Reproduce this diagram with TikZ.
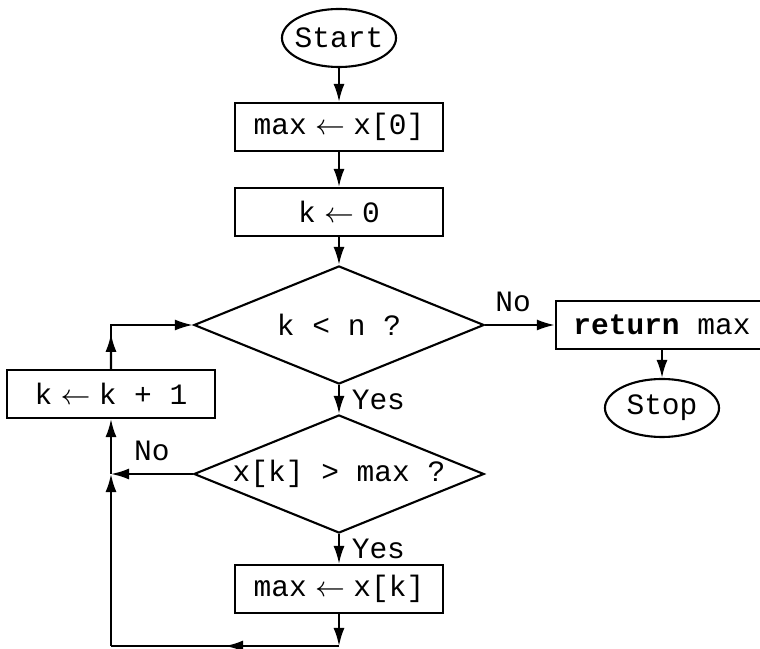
\documentclass[tikz,border=0pt]{standalone}
\usepackage{fontspec}
\setmonofont{Liberation Mono}
\usetikzlibrary{arrows.meta, positioning, shapes.geometric, calc}

\begin{document}
\begin{tikzpicture}[x=0.01cm, y=-0.01cm, line width=0.6pt,
    every node/.style={font=\ttfamily\fontsize{8.4}{10}\selectfont},
    proc/.style={draw, rectangle, minimum width=2.07cm, minimum height=0.48cm, inner sep=0pt},
    decide/.style={draw, diamond, aspect=2.47, minimum width=2.9cm, minimum height=1.18cm, inner sep=0pt},
    term/.style={draw, ellipse, minimum width=1.14cm, minimum height=0.58cm, inner xsep=-0.1cm, inner ysep=0pt},
    arr/.style={-{Latex[length=0.18cm, width=0.11cm]}}]
  \useasboundingbox (0,0) rectangle (760,649);

  % Colonne principale
  \node[term] (start) at (339,38) {Start};
  \node[proc] (initmax) at (339,127) {max$\;\leftarrow\;$x[0]};
  \node[proc] (initk) at (339,212) {k$\;\leftarrow\;$0};
  \node[decide] (testk) at (339,325) {k < n ?};
  \node[decide] (testx) at (339,474) {x[k] > max ?};
  \node[proc] (setmax) at (339,589) {max$\;\leftarrow\;$x[k]};

  % Incrément et sortie
  \node[proc] (inck) at (111,394) {k$\;\leftarrow\;$k + 1};
  \node[proc, minimum width=2.12cm] (ret) at (662,325) {\textbf{return} max};
  \node[term] (stop) at (662,408) {Stop};

  % Points de la boucle
  \coordinate (join) at (111,474);
  \coordinate (low) at (339,646);
  \coordinate (lowl) at (111,646);
  \coordinate (upl) at (111,325);

  % Flèches
  \draw[arr] (start) -- (initmax);
  \draw[arr] (initmax) -- (initk);
  \draw[arr] (initk) -- (testk);
  \draw[arr] (testk) -- node[right] {Yes} (testx);
  \draw[arr] (testx) -- node[right] {Yes} (setmax);
  \draw[arr] (testk) -- node[above, pos=0.4] {No} (ret);
  \draw[arr] (ret) -- (stop);
  \draw[arr] (testx) -- node[above] {No} (join);

  % Retour de boucle
  \draw[arr] (setmax) -- (low);
  \draw (low) -- (lowl);
  \draw[arr] (low) -- ($(low)!0.5!(lowl)$);
  \draw[arr] (lowl) -- (join);
  \draw[arr] (join) -- (inck);
  \draw[arr] (inck.north) |- (testk.west);
  \draw[arr] (inck.north) -- ($(inck.north)!0.8!(upl)$);
\end{tikzpicture}
\end{document}
